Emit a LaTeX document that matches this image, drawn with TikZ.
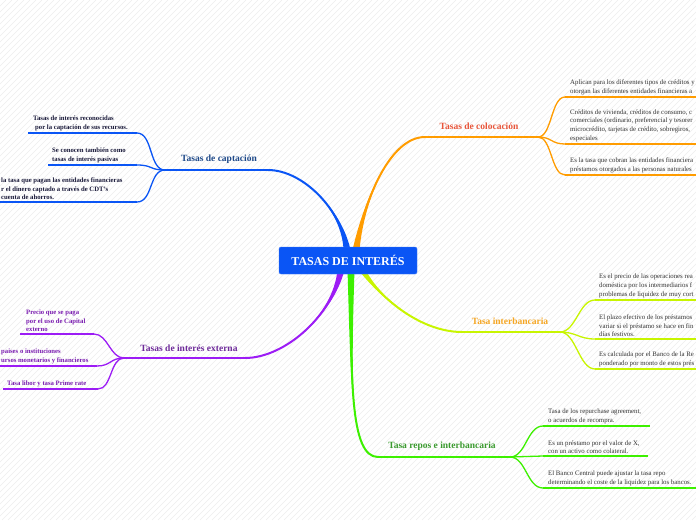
\documentclass[tikz,border=0pt]{standalone}
\usepackage{fontspec}
\setmainfont{Liberation Serif}
\usetikzlibrary{calc}
\definecolor{cblue}{HTML}{0A55F5}
\definecolor{corange}{HTML}{FF9C00}
\definecolor{cyellow}{HTML}{C8F500}
\definecolor{cgreen}{HTML}{3DF000}
\definecolor{cpurple}{HTML}{9C1CF5}
\definecolor{tcap}{HTML}{1F4A8A}
\definecolor{tcol}{HTML}{E8553A}
\definecolor{tint}{HTML}{F5A623}
\definecolor{trep}{HTML}{3A9A2E}
\definecolor{text}{HTML}{6E2A9A}
\definecolor{tsubl}{HTML}{1A1A3A}
\definecolor{tsubr}{HTML}{333333}
\definecolor{tsubp}{HTML}{7A1CB0}
\newcommand\mmtaper[6]{% color, S, ctrlA offset, ctrlB offset, E, half width
  \fill[#1] ($(#2)+(-#6,0)$) .. controls ($(#2)+(#3)$) and ($(#5)+(#4)$) .. (#5)
     .. controls ($(#5)+(#4)$) and ($(#2)+(#3)$) .. ($(#2)+(#6,0)$) -- cycle;
  \draw[#1, line width=2] (#2) .. controls ($(#2)+(#3)$) and ($(#5)+(#4)$) .. (#5);}
\tikzset{
  bgline/.style={draw=black!7, line width=0.4pt},
  mainlbl/.style={font=\fontsize{9.5}{11}\selectfont\bfseries, inner sep=0pt},
  mainline/.style={line width=2pt},
  subcurve/.style={line width=1.3pt},
  subline/.style={line width=2.8pt},
  subl/.style={font=\fontsize{6.7}{8.6}\selectfont\bfseries, text=tsubl, align=left, inner sep=0pt, anchor=south west},
  subr/.style={font=\fontsize{6.8}{8.7}\selectfont, text=tsubr, align=left, inner sep=0pt, anchor=south west},
  subp/.style={font=\fontsize{6.7}{8.6}\selectfont\bfseries, text=tsubp, align=left, inner sep=0pt, anchor=south west},
  rootbox/.style={fill=cblue, draw=cblue!80!white, rounded corners=2pt, text=white,
    font=\fontsize{12}{14}\selectfont\bfseries, minimum width=138pt, minimum height=27pt, inner sep=0pt}
}
\begin{document}
\begin{tikzpicture}[x=1pt,y=-1pt]
\useasboundingbox (0,0) rectangle (696,520);
\fill[white] (0,0) rectangle (696,520);
\begin{scope}
\clip (0,0) rectangle (696,520);
\foreach \i in {-520,-514,...,696} \draw[bgline] (\i,520) -- (\i+520,0);

% coordinates
\coordinate (capS) at (347,250);
\coordinate (capE) at (268,170);
\coordinate (capJ) at (165,170);
\coordinate (colS) at (356,250);
\coordinate (colE) at (425,137);
\coordinate (colJ) at (538,137);
\coordinate (intS) at (362,270);
\coordinate (intE) at (462,332);
\coordinate (intJ) at (560,332);
\coordinate (repS) at (351,270);
\coordinate (repE) at (378,457);
\coordinate (repJ) at (510,457);
\coordinate (extS) at (341,270);
\coordinate (extE) at (245,358);
\coordinate (extJ) at (124,358);

% main branches
\mmtaper{cblue}{capS}{-5,-40}{35,0}{capE}{3.5}
\draw[cblue, mainline] (capE) -- (capJ);
\mmtaper{corange}{colS}{8,-50}{-35,0}{colE}{3.5}
\draw[corange, mainline] (colE) -- (colJ);
\mmtaper{cyellow}{intS}{20,30}{-40,0}{intE}{3.5}
\draw[cyellow, mainline] (intE) -- (intJ);
\mmtaper{cgreen}{repS}{0,110}{-28,0}{repE}{3.5}
\draw[cgreen, mainline] (repE) -- (repJ);
\mmtaper{cpurple}{extS}{-8,45}{40,0}{extE}{3.5}
\draw[cpurple, mainline] (extE) -- (extJ);

% root
\node[rootbox] (root) at (348,260.5) {TASAS DE INTERÉS};

% main labels
\node[mainlbl, text=tcap] (capL) at (219,159) {Tasas de captación};
\node[mainlbl, text=tcol] (colL) at (479,126) {Tasas de colocación};
\node[mainlbl, text=tint] (intL) at (510,321) {Tasa interbancaria};
\node[mainlbl, text=trep] (repL) at (442,446) {Tasa repos e interbancaria};
\node[mainlbl, text=text] (extL) at (189,348) {Tasas de interés externa};

% ---- captación subs
\coordinate (cap1e) at (137,133); \coordinate (cap1s) at (28,133);
\coordinate (cap2e) at (137,165); \coordinate (cap2s) at (48,165);
\coordinate (cap3e) at (137,202); \coordinate (cap3s) at (-5,202);
\foreach \k in {1,2,3}{
  \draw[cblue, subcurve] (capJ) .. controls ($(capJ)+(-16,0)$) and ($(cap\k e)+(16,0)$) .. (cap\k e);
  \draw[cblue, subline] (cap\k e) -- (cap\k s);
}
\node[subl] (cap1t) at (33,131) {Tasas de interés reconocidas\\\hspace{2pt}por la captación de sus recursos.};
\node[subl] (cap2t) at (52,163) {Se conocen también como\\tasas de interés pasivas};
\node[subl] (cap3t) at (1,200) {la tasa que pagan las entidades financieras\\r el dinero captado a través de CDT's\\cuenta de ahorros.};

% ---- colocación subs
\coordinate (col1e) at (565,97);  \coordinate (col1s) at (700,97);
\coordinate (col2e) at (565,144); \coordinate (col2s) at (700,144);
\coordinate (col3e) at (565,175); \coordinate (col3s) at (700,175);
\foreach \k in {1,2,3}{
  \draw[corange, subcurve] (colJ) .. controls ($(colJ)+(14,0)$) and ($(col\k e)+(-14,0)$) .. (col\k e);
  \draw[corange, subline] (col\k e) -- (col\k s);
}
\node[subr] (col1t) at (570,95) {Aplican para los diferentes tipos de créditos y\\otorgan las diferentes entidades financieras a};
\node[subr] (col2t) at (570,142) {Créditos de vivienda, créditos de consumo, c\\comerciales (ordinario, preferencial y tesorer\\microcrédito, tarjetas de crédito, sobregiros,\\especiales};
\node[subr] (col3t) at (570,173) {Es la tasa que cobran las entidades financiera\\préstamos otorgados a las personas naturales};

% ---- interbancaria subs
\coordinate (int1e) at (595,300); \coordinate (int1s) at (700,300);
\coordinate (int2e) at (595,339); \coordinate (int2s) at (700,339);
\coordinate (int3e) at (595,369); \coordinate (int3s) at (700,369);
\foreach \k in {1,2,3}{
  \draw[cyellow, subcurve] (intJ) .. controls ($(intJ)+(16,0)$) and ($(int\k e)+(-16,0)$) .. (int\k e);
  \draw[cyellow, subline] (int\k e) -- (int\k s);
}
\node[subr] (int1t) at (599,298) {Es el precio de las operaciones rea\\doméstica por los intermediarios f\\problemas de liquidez de muy cort};
\node[subr] (int2t) at (599,337) {El plazo efectivo de los préstamos\\variar si el préstamo se hace en fin\\días festivos.};
\node[subr] (int3t) at (599,367) {Es calculada por el Banco de la Re\\ponderado por monto de estos prés};

% ---- repos subs
\coordinate (rep1e) at (543,426); \coordinate (rep1s) at (650,426);
\coordinate (rep2e) at (543,456); \coordinate (rep2s) at (648,456);
\coordinate (rep3e) at (543,488); \coordinate (rep3s) at (700,488);
\foreach \k in {1,2,3}{
  \draw[cgreen, subcurve] (repJ) .. controls ($(repJ)+(16,0)$) and ($(rep\k e)+(-16,0)$) .. (rep\k e);
  \draw[cgreen, subline] (rep\k e) -- (rep\k s);
}
\node[subr] (rep1t) at (548,424) {Tasa de los repurchase agreement,\\o acuerdos de recompra.};
\node[subr] (rep2t) at (548,454) {Es un préstamo por el valor de X,\\con un activo como colateral.};
\node[subr] (rep3t) at (548,486) {El Banco Central puede ajustar la tasa repo\\determinando el coste de la liquidez para los bancos.};

% ---- externa subs
\coordinate (ext1e) at (94,334); \coordinate (ext1s) at (20,334);
\coordinate (ext2e) at (97,366); \coordinate (ext2s) at (-5,366);
\coordinate (ext3e) at (98,389); \coordinate (ext3s) at (3,389);
\foreach \k in {1,2,3}{
  \draw[cpurple, subcurve] (extJ) .. controls ($(extJ)+(-14,0)$) and ($(ext\k e)+(14,0)$) .. (ext\k e);
  \draw[cpurple, subline] (ext\k e) -- (ext\k s);
}
\node[subp] (ext1t) at (26,332) {Precio que se paga\\por el uso de Capital\\externo};
\node[subp] (ext2t) at (1,364) {paises o instituciones\\ursos monetarios y financieros};
\node[subp] (ext3t) at (7,387) {Tasa libor y tasa Prime rate};
\end{scope}
\end{tikzpicture}
\end{document}
